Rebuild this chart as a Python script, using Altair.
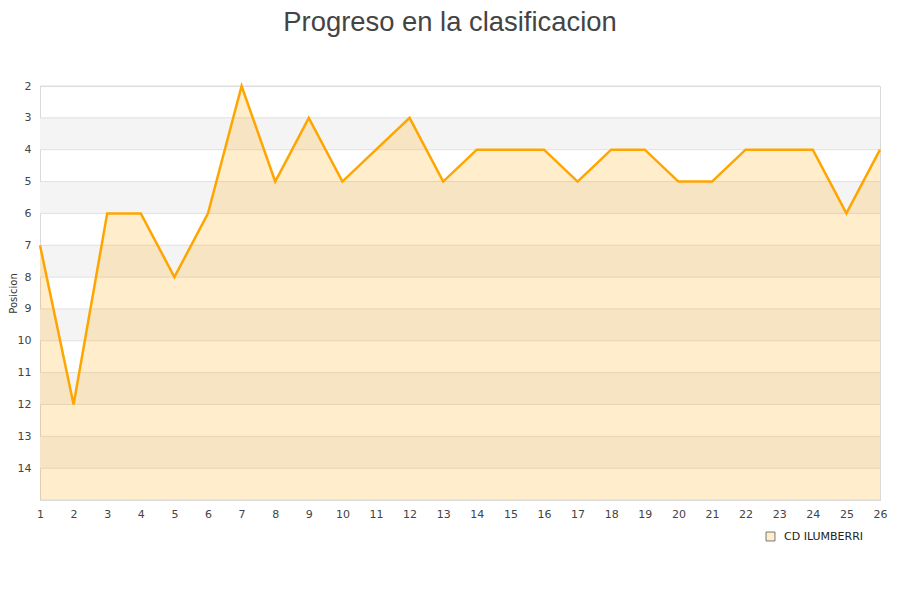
import pandas as pd
import altair as alt

# position per jornada
jornadas = list(range(1, 27))
posiciones = [7, 12, 6, 6, 8, 6, 2, 5, 3, 5, 4, 3, 5, 4, 4, 4, 5, 4, 4, 5, 5, 4, 4, 4, 6, 4]
equipo = "CD ILUMBERRI"
y_ticks = list(range(2, 15))
band_starts = [3, 5, 7, 9, 11, 13]

data = pd.DataFrame({"jornada": jornadas, "pos": posiciones, "equipo": equipo})
bands = pd.DataFrame({"y1": band_starts, "y2": [b + 1 for b in band_starts],
                      "x1": min(jornadas), "x2": max(jornadas)})
grid = pd.DataFrame({"y": y_ticks + [15]})

xs = alt.Scale(domain=[1, 26], nice=False, zero=False)
ys = alt.Scale(domain=[2, 15], reverse=True, nice=False, zero=False)

x_axis = alt.Axis(title=None, values=jornadas, ticks=False, grid=False,
                  labelOverlap=False, labelPadding=8, domainColor="#d9d9d9")
y_axis = alt.Axis(title="Posicion", values=y_ticks, ticks=False, grid=False,
                  labelOverlap=False, labelPadding=9, titleX=-22, titleY=207,
                  domainColor="#d9d9d9")

band_layer = alt.Chart(bands).mark_rect(color="#f4f4f4").encode(
    x=alt.X("x1:Q", scale=xs, axis=x_axis), x2="x2",
    y=alt.Y("y1:Q", scale=ys, axis=y_axis), y2="y2"
)
grid_layer = alt.Chart(grid).mark_rule(color="#e0e0e0", strokeWidth=1).encode(
    y=alt.Y("y:Q", scale=ys, axis=y_axis)
)
area = alt.Chart(data).mark_area(color="#ffa500", fillOpacity=0.2).encode(
    x=alt.X("jornada:Q", scale=xs, axis=x_axis),
    y=alt.Y("pos:Q", scale=ys, axis=y_axis),
    y2=alt.datum(15),
)
line = alt.Chart(data).mark_line(color="#ffa500", strokeWidth=2.5).encode(
    x=alt.X("jornada:Q", scale=xs, axis=x_axis),
    y=alt.Y("pos:Q", scale=ys, axis=y_axis)
)
# invisible layer, only for the legend entry
legend_layer = alt.Chart(data).mark_square(opacity=0).encode(
    x=alt.X("jornada:Q", scale=xs, axis=x_axis),
    y=alt.Y("pos:Q", scale=ys, axis=y_axis),
    color=alt.Color("equipo:N", scale=alt.Scale(range=["#ffedcc"]),
                    legend=alt.Legend(title=None, orient="none", legendX=725, legendY=445,
                                      symbolType="square", symbolSize=80,
                                      symbolStrokeColor="#777", symbolStrokeWidth=1,
                                      symbolOpacity=1, labelOffset=8,
                                      labelFont="DejaVu Sans", labelFontSize=11,
                                      labelColor="#222")),
)

chart = alt.layer(band_layer, grid_layer, area, line, legend_layer).properties(
    width=840, height=414,
    autosize=alt.AutoSizeParams(type="none"),
    padding={"left": 32, "top": 78, "right": 10, "bottom": 92},
    title=alt.Title("Progreso en la clasificacion", font="Liberation Sans",
                    fontSize=27.4, fontWeight="normal", color="#444444",
                    anchor="middle", offset=44, dx=-10),
).configure_view(stroke="#d9d9d9").configure_axis(
    labelFont="DejaVu Sans", labelFontSize=11, labelColor="#444444",
    labelOverlap=False, labelFlush=False,
    titleFont="DejaVu Sans", titleFontSize=10, titleFontWeight="normal", titleColor="#333333",
)

chart.save("out.html", embed_options={"renderer": "svg", "actions": False})
